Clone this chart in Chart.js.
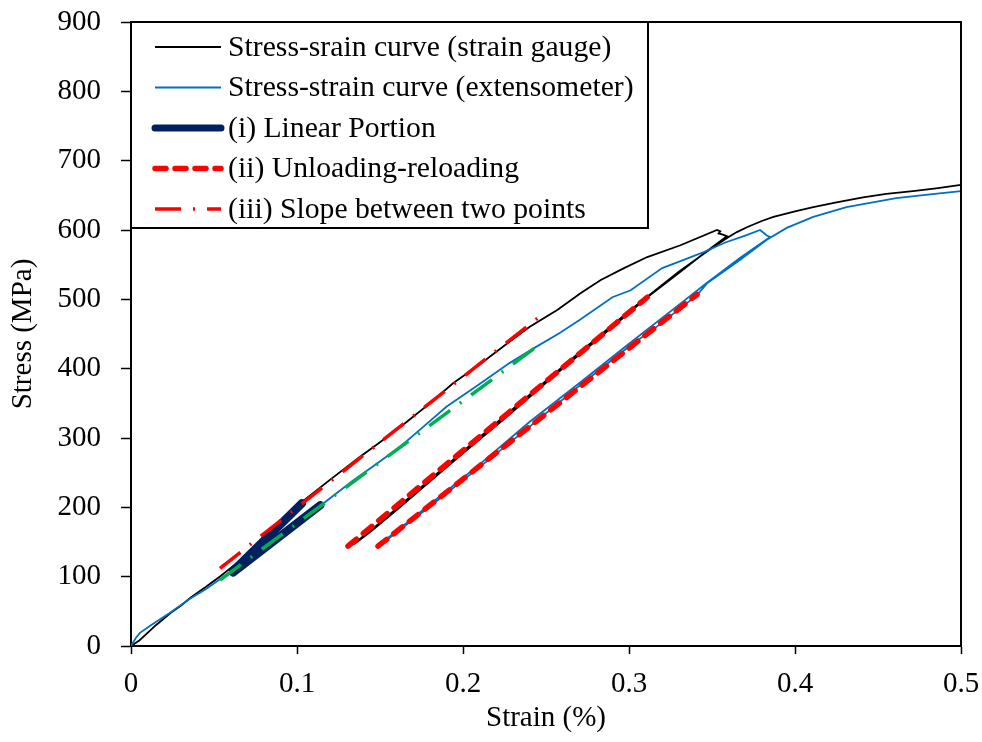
<!DOCTYPE html>
<html>
<head>
<meta charset="utf-8">
<script src="https://cdn.jsdelivr.net/npm/chart.js@4.4.0/dist/chart.umd.min.js"></script>
<style>
    html, body { margin: 0; padding: 0; background: #fff; }
    #wrap { width: 982px; height: 742px; }
</style>
</head>
<body>
<div id="wrap"><canvas id="grafica" width="982" height="742"></canvas></div>
<script>
// Curva medida con galga extensométrica [deformación %, tensión MPa]
const curvaGalga = [
    [0, 0], [0.005, 8], [0.010, 19], [0.015, 30], [0.024, 48], [0.030, 58], [0.036, 70],
    [0.045, 85], [0.054, 101], [0.065, 122], [0.075, 143], [0.085, 164], [0.095, 190],
    [0.102, 206], [0.110, 221], [0.120, 240], [0.138, 273], [0.150, 294], [0.166, 323],
    [0.180, 350], [0.194, 379], [0.210, 406], [0.227, 437], [0.240, 460], [0.257, 485],
    [0.271, 509], [0.283, 528], [0.297, 545], [0.311, 561], [0.331, 578], [0.353, 600],
    [0.355, 598], [0.354, 595], [0.357, 593], [0.359, 591],
    [0.345, 566], [0.330, 538], [0.311, 503], [0.290, 460], [0.270, 420], [0.257, 394],
    [0.226, 330], [0.200, 278], [0.180, 237], [0.160, 196], [0.145, 166], [0.135, 148],
    [0.132, 145], [0.134, 147], [0.150, 178], [0.180, 240], [0.210, 301], [0.240, 362],
    [0.270, 423], [0.300, 483], [0.330, 540], [0.350, 574], [0.360, 590], [0.365, 597],
    [0.371, 604], [0.380, 613], [0.387, 619], [0.400, 627], [0.411, 633], [0.425, 640],
    [0.441, 647], [0.455, 652], [0.471, 656], [0.485, 660], [0.500, 665]
];

// Curva medida con extensómetro
const curvaExtensometro = [
    [0, 0], [0.003, 12], [0.0054, 19], [0.012, 30], [0.0235, 48], [0.0355, 68], [0.045, 82],
    [0.054, 97], [0.065, 116], [0.075, 134], [0.085, 152], [0.095, 170], [0.105, 187],
    [0.116, 206], [0.134, 239], [0.148, 263], [0.162, 287], [0.176, 316], [0.190, 345],
    [0.210, 378], [0.228, 408], [0.243, 430], [0.258, 451], [0.270, 470], [0.290, 503],
    [0.301, 513], [0.320, 545], [0.331, 555], [0.345, 568], [0.358, 582], [0.370, 592],
    [0.379, 600], [0.381, 596], [0.383, 592], [0.385, 590],
    [0.367, 560], [0.347, 524], [0.330, 492], [0.300, 436], [0.270, 379], [0.240, 323],
    [0.210, 262], [0.180, 204], [0.160, 166], [0.150, 147], [0.152, 149], [0.180, 201],
    [0.210, 258], [0.240, 316], [0.270, 375], [0.300, 432], [0.317, 461], [0.341, 506],
    [0.347, 523], [0.367, 557], [0.383, 586], [0.395, 603], [0.411, 619], [0.431, 633],
    [0.461, 646], [0.480, 651], [0.500, 656]
];

// (i) Tramo lineal sobre cada curva
const linealGalga = [[0.0615, 108], [0.103, 206]];
const linealExtensometro = [[0.0615, 106], [0.114, 203]];

// (ii) Descarga-recarga
const descargaGalga = [[0.1307, 144], [0.311, 503]];
const descargaExtensometro = [[0.1488, 144], [0.341, 507]];

// (iii) Pendiente entre dos puntos
const pendienteGalga = [[0.0536, 112], [0.245, 473]];
const pendienteExtensometro = [[0.0536, 95], [0.2434, 430]];

const ticksX = [0, 0.1, 0.2, 0.3, 0.4, 0.5];
const ticksY = [0, 100, 200, 300, 400, 500, 600, 700, 800, 900];

const fuente = '"Liberation Serif", "Times New Roman", serif';

const aPuntos = arr => arr.map(p => ({ x: p[0], y: p[1] }));

function serie(label, datos, color, ancho, extra) {
    return Object.assign({
        label: label,
        data: aPuntos(datos),
        borderColor: color,
        backgroundColor: color,
        borderWidth: ancho,
        pointRadius: 0,
        showLine: true,
        fill: false,
        tension: 0
    }, extra || {});
}

const rayaPunto = [26, 12, 2, 12];

const datasets = [
    serie('Stress-srain curve (strain gauge)', curvaGalga, '#000000', 1.8, { order: 6, enLeyenda: true }),
    serie('Stress-strain curve (extensometer)', curvaExtensometro, '#0070c0', 1.8, { order: 5, enLeyenda: true }),
    serie('(i) Linear Portion', linealGalga, '#002060', 8.5, { order: 4, borderCapStyle: 'round', enLeyenda: true }),
    serie('(i) Linear Portion', linealExtensometro, '#002060', 8.5, { order: 4, borderCapStyle: 'round' }),
    serie('(ii) Unloading-reloading', descargaGalga, '#ff0000', 5.5, { order: 3, borderDash: [11, 9], borderCapStyle: 'round', enLeyenda: true }),
    serie('(ii) Unloading-reloading', descargaExtensometro, '#ff0000', 5.5, { order: 3, borderDash: [11, 9], borderCapStyle: 'round' }),
    serie('(iii) Slope between two points', pendienteGalga, '#ff0000', 3.5, { order: 2, borderDash: rayaPunto, enLeyenda: true }),
    serie('(iii) Slope between two points', pendienteExtensometro, '#00b050', 3.5, { order: 2, borderDash: rayaPunto })
];

// Marco superior y derecho del área de trazado
const marco = {
    id: 'marco',
    afterDatasetsDraw(chart) {
        const a = chart.chartArea;
        const ctx = chart.ctx;
        ctx.save();
        ctx.strokeStyle = '#000';
        ctx.lineWidth = 2;
        ctx.beginPath();
        ctx.moveTo(a.left, a.top);
        ctx.lineTo(a.right, a.top);
        ctx.lineTo(a.right, a.bottom);
        ctx.stroke();
        ctx.restore();
    }
};

// Leyenda dentro del área, en la esquina superior izquierda
const leyenda = {
    id: 'leyenda',
    afterDraw(chart) {
        const a = chart.chartArea;
        const ctx = chart.ctx;
        const x0 = a.left, y0 = a.top, w = 517, h = 206;
        ctx.save();
        ctx.fillStyle = '#fff';
        ctx.fillRect(x0, y0, w, h);
        ctx.strokeStyle = '#000';
        ctx.lineWidth = 2;
        ctx.strokeRect(x0, y0, w, h);

        const items = chart.data.datasets.filter(d => d.enLeyenda);
        ctx.font = '29.7px ' + fuente;
        ctx.textBaseline = 'middle';
        items.forEach((d, i) => {
            const y = y0 + 25 + i * 40.5;
            ctx.save();
            ctx.strokeStyle = d.borderColor;
            ctx.lineWidth = Math.min(d.borderWidth, 7);
            ctx.lineCap = d.borderCapStyle || 'butt';
            ctx.setLineDash(d.borderDash || []);
            ctx.beginPath();
            ctx.moveTo(x0 + 24, y);
            ctx.lineTo(x0 + 90, y);
            ctx.stroke();
            ctx.restore();
            ctx.fillStyle = '#000';
            ctx.fillText(d.label, x0 + 97, y + 1);
        });
        ctx.restore();
    }
};

// Sin márgenes extra por etiquetas: el área queda fijada por layout.padding
const sinMargenes = s => {
    s.paddingTop = 0;
    s.paddingBottom = 0;
    s.paddingLeft = 0;
    s.paddingRight = 0;
};

new Chart(document.getElementById('grafica').getContext('2d'), {
    type: 'scatter',
    data: { datasets: datasets },
    plugins: [marco, leyenda],
    options: {
        responsive: false,
        animation: false,
        events: [],
        layout: { padding: { top: 22, right: 21, left: 0, bottom: 0 } },
        plugins: {
            legend: { display: false },
            tooltip: { enabled: false }
        },
        scales: {
            x: {
                type: 'linear',
                min: 0,
                max: 0.5,
                afterBuildTicks: s => { s.ticks = ticksX.map(v => ({ value: v })); },
                afterFit: s => { s.height = 96; sinMargenes(s); },
                ticks: {
                    color: '#000',
                    font: { family: fuente, size: 29 },
                    padding: 13,
                    maxRotation: 0,
                    callback: v => String(+v.toFixed(1))
                },
                grid: { drawOnChartArea: false, drawTicks: true, tickLength: 8, tickColor: '#000', tickWidth: 1.5 },
                border: { display: true, color: '#000', width: 2 },
                title: {
                    display: true,
                    text: 'Strain (%)',
                    color: '#000',
                    font: { family: fuente, size: 29 },
                    padding: { top: 0, bottom: 6 }
                }
            },
            y: {
                type: 'linear',
                min: 0,
                max: 900,
                afterBuildTicks: s => { s.ticks = ticksY.map(v => ({ value: v })); },
                afterFit: s => { s.width = 131; sinMargenes(s); },
                ticks: {
                    color: '#000',
                    font: { family: fuente, size: 29 },
                    padding: 20
                },
                grid: { drawOnChartArea: false, drawTicks: true, tickLength: 10, tickColor: '#000', tickWidth: 1.5 },
                border: { display: true, color: '#000', width: 2 },
                title: {
                    display: true,
                    text: 'Stress (MPa)',
                    color: '#000',
                    font: { family: fuente, size: 29 },
                    padding: { top: 6, bottom: 0 }
                }
            }
        }
    }
});
</script>
</body>
</html>
